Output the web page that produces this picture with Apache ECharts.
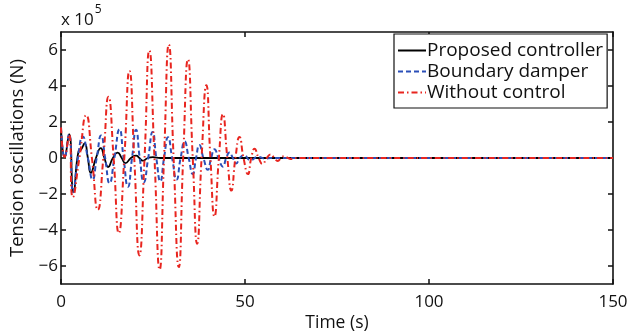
<!DOCTYPE html>
<html>
<head>
<meta charset="utf-8">
<script src="https://cdn.jsdelivr.net/npm/echarts@6/dist/echarts.min.js"></script>
<style>
html,body{margin:0;padding:0;background:#fff;}
#chart{width:639px;height:331px;}
</style>
</head>
<body>
<div id="chart"></div>
<script>
// Values in units of 1e5 N (extrema and zero crossings)
var seriesNames = ['Proposed controller', 'Boundary damper', 'Without control'];
var xTicks = [0, 50, 100, 150];
var yTicks = [-6, -4, -2, 0, 2, 4, 6];

var tProposed = [0, 1.0, 2.2, 3.4, 4.8, 5.4, 6.4, 7.3, 8.1, 9.5, 10.8, 11.8, 12.8, 14.1, 15.4, 16.5, 17.5, 19.0, 20.4, 21.3, 22.2, 23.6, 25.0, 27.0, 150];
var vProposed = [1.7, 0.05, 1.33, -1.9, 0.4, 0.45, 0.81, 0, -0.82, 0, 0.55, 0, -0.5, 0, 0.3, 0, -0.28, 0, 0.13, 0, -0.15, 0, 0.05, 0, 0];

var tDamper = [0, 1.0, 2.2, 3.3, 4.6, 5.9, 7.3, 8.6, 9.7, 10.9, 12.0, 13.2, 14.5, 15.9, 17.0, 18.2, 19.3, 20.4, 21.4, 22.5, 23.7, 24.9, 25.9, 27.0, 28.0, 29.1, 30.2, 31.4, 32.5, 33.6, 34.7, 35.8, 36.7, 37.6, 38.7, 39.9, 40.8, 41.7, 42.8, 44.0, 44.9, 45.8, 46.7, 47.6, 48.6, 49.7, 51.5, 53.5, 55.5, 57.0, 150];
var vDamper = [1.7, 0.05, 1.33, -1.9, 0, 1.2, 0, -1.2, 0, 1.25, 0, -1.4, 0, 1.6, 0, -1.6, 0, 1.57, 0, -1.35, 0, 1.45, 0, -1.3, 0, 1.15, 0, -1.2, 0, 0.92, 0, -0.89, 0, 0.72, 0, -0.65, 0, 0.48, 0, -0.48, 0, 0.3, 0, -0.3, 0, 0.15, -0.12, 0.06, -0.03, 0, 0];

var tWithout = [0, 1.0, 2.2, 3.2, 5.0, 6.85, 8.4, 10.0, 11.5, 12.9, 14.3, 15.7, 17.2, 18.6, 19.9, 21.3, 22.7, 24.0, 25.4, 26.8, 28.0, 29.3, 30.6, 32.0, 33.2, 34.5, 35.8, 37.0, 38.2, 39.5, 40.6, 41.7, 42.9, 44.0, 45.2, 46.3, 47.4, 48.5, 49.6, 50.8, 51.7, 52.6, 53.7, 54.8, 55.9, 57.0, 58.0, 58.9, 59.8, 60.7, 61.7, 62.7, 64.0, 150];
var vWithout = [1.7, 0.05, 1.3, -2.18, 0, 2.38, 0, -2.88, 0, 3.4, 0, -4.17, 0, 4.84, 0, -5.41, 0, 5.98, 0, -6.2, 0, 6.31, 0, -6.06, 0, 5.48, 0, -4.76, 0, 4.04, 0, -3.25, 0, 2.44, 0, -1.81, 0, 1.17, 0, -0.89, 0, 0.52, 0, -0.33, 0, 0.2, 0, -0.17, 0, 0.1, 0, -0.05, 0, 0];

function pairs(t, v) { return t.map(function (x, i) { return [x, v[i]]; }); }

var font = '"Open Sans", "Noto Sans", sans-serif';
var ink = '#111';
var chart = echarts.init(document.getElementById('chart'), null, {renderer: 'canvas'});
var minus = function (v) { return String(v).replace('-', '\u2212'); };
var frameLine = {show: true, onZero: false, lineStyle: {color: ink, width: 1.6}};
var frameTick = {show: true, inside: true, length: 5, lineStyle: {color: ink, width: 1.5}};

chart.setOption({
  animation: false,
  backgroundColor: '#fff',
  title: {
    left: 61, top: 4, padding: 0,
    text: '{a|x 10}{b|5}',
    textStyle: {
      fontWeight: 'normal',
      rich: {
        a: {fontFamily: font, fontSize: 17, color: ink, verticalAlign: 'bottom', padding: [8, 0, 0, 0]},
        b: {fontFamily: font, fontSize: 12, color: ink, verticalAlign: 'top', padding: [0, 0, 8, 1]}
      }
    }
  },
  grid: {left: 61, right: 26, top: 32, bottom: 47, containLabel: false, outerBoundsMode: 'none'},
  legend: {
    left: 394, top: 34, orient: 'vertical',
    data: seriesNames,
    itemWidth: 28, itemHeight: 12, itemGap: 0,
    padding: [6, 4, 5, 3],
    itemStyle: {opacity: 0},
    borderColor: ink, borderWidth: 1.2, backgroundColor: '#fff',
    textStyle: {fontFamily: font, fontSize: 19, color: ink, padding: [0, 0, 0, -4], lineHeight: 21}
  },
  xAxis: [{
    type: 'value', min: 0, max: 150, interval: 50,
    name: 'Time (s)', nameLocation: 'middle', nameGap: 30, nameMoveOverlap: false,
    nameTextStyle: {fontFamily: font, fontSize: 17.5, color: ink, verticalAlign: 'top', lineHeight: 18},
    axisLine: frameLine, axisTick: frameTick,
    axisLabel: {fontFamily: font, fontSize: 17, color: ink, margin: 10},
    splitLine: {show: false}
  }, {
    type: 'value', min: 0, max: 150, interval: 50, position: 'top',
    axisLine: frameLine, axisTick: frameTick,
    axisLabel: {show: false}, splitLine: {show: false}
  }],
  yAxis: [{
    type: 'value', min: -7, max: 7,
    name: 'Tension oscillations (N)', nameLocation: 'middle', nameGap: 26,
    nameTextStyle: {fontFamily: font, fontSize: 18.5, color: ink},
    axisLine: frameLine,
    axisTick: {show: true, inside: true, length: 5, customValues: yTicks, lineStyle: {color: ink, width: 1.5}},
    axisLabel: {fontFamily: font, fontSize: 17, color: ink, margin: 3, customValues: yTicks, formatter: minus},
    splitLine: {show: false}
  }, {
    type: 'value', min: -7, max: 7, position: 'right',
    axisLine: frameLine,
    axisTick: {show: true, inside: true, length: 5, customValues: yTicks, lineStyle: {color: ink, width: 1.5}},
    axisLabel: {show: false}, splitLine: {show: false}
  }],
  series: [{
    name: seriesNames[0], type: 'line', data: pairs(tProposed, vProposed),
    smooth: 0.55, showSymbol: false, symbol: 'none',
    lineStyle: {color: '#000', width: 1.8, type: 'solid'}, itemStyle: {color: '#000'}
  }, {
    name: seriesNames[1], type: 'line', data: pairs(tDamper, vDamper),
    smooth: 0.55, showSymbol: false, symbol: 'none',
    lineStyle: {color: '#2b4fb8', width: 2, type: [5, 3]}, itemStyle: {color: '#2b4fb8'}
  }, {
    name: seriesNames[2], type: 'line', data: pairs(tWithout, vWithout),
    smooth: 0.55, showSymbol: false, symbol: 'none',
    lineStyle: {color: '#e8251f', width: 2, type: [6, 3, 1.5, 3]}, itemStyle: {color: '#e8251f'}
  }]
});
</script>
</body>
</html>
